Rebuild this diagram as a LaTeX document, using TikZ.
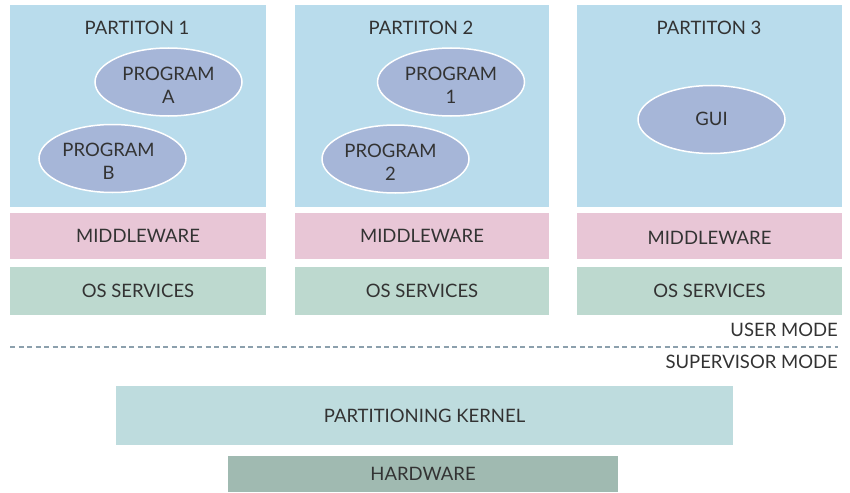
\documentclass[tikz,border=0pt]{standalone}
\usepackage{fontspec}
\setmainfont{Lato}
\usetikzlibrary{shapes.geometric}

\definecolor{partfill}{HTML}{B9DCEC}
\definecolor{progfill}{HTML}{A6B6D8}
\definecolor{mwfill}{HTML}{E8C6D6}
\definecolor{osfill}{HTML}{BDD9CF}
\definecolor{kernfill}{HTML}{BEDCDE}
\definecolor{hwfill}{HTML}{A0BAB1}
\definecolor{modeline}{HTML}{8CA0AD}
\definecolor{txt}{HTML}{333333}

\tikzset{
  every node/.style={text=txt, font=\fontsize{18.5}{23}\selectfont},
  prog/.style={ellipse, fill=progfill, draw=white, line width=1.5pt,
    minimum width=147, minimum height=68, inner sep=0pt},
  progtext/.style={align=center, inner sep=0pt}
}

\begin{document}
\begin{tikzpicture}[x=1pt,y=-1pt]
\useasboundingbox (0,0) rectangle (850,492);

% Partitions
\fill[partfill] (10,5) rectangle (266,207);
\fill[partfill] (295,5) rectangle (549,207);
\fill[partfill] (577,5) rectangle (842,207);
\node (p1) at (137,28) {PARTITON 1};
\node (p2) at (421,28) {PARTITON 2};
\node (p3) at (709,28) {PARTITON 3};

% Programs
\node[prog] (pa) at (168.5,82) {};
\node[prog] (pb) at (112.5,158.5) {};
\node[prog] (p1a) at (451,82) {};
\node[prog] (p2a) at (395.5,159) {};
\node[prog] (gui) at (711.5,119.5) {};
\node[progtext] (pat) at ([yshift=-3.5pt]pa.center) {PROGRAM\\A};
\node[progtext] (pbt) at ([xshift=-4pt,yshift=-3pt]pb.center) {PROGRAM\\B};
\node[progtext] (p1t) at ([yshift=-3.5pt]p1a.center) {PROGRAM\\1};
\node[progtext] (p2t) at ([xshift=-5pt,yshift=-3pt]p2a.center) {PROGRAM\\2};
\node[progtext] (guit) at ([yshift=1pt]gui.center) {GUI};

% Middleware layer
\fill[mwfill] (10,213) rectangle (266,259) node[pos=.5] (mw1) {MIDDLEWARE};
\fill[mwfill] (295,213) rectangle (549,259) node[pos=.5] (mw2) {MIDDLEWARE};
\fill[mwfill] (577,213) rectangle (842,259) node[pos=.5, yshift=-2pt] (mw3) {MIDDLEWARE};

% OS services layer
\fill[osfill] (10,267) rectangle (266,315) node[pos=.5] (os1) {OS SERVICES};
\fill[osfill] (295,267) rectangle (549,315) node[pos=.5] (os2) {OS SERVICES};
\fill[osfill] (577,267) rectangle (842,315) node[pos=.5] (os3) {OS SERVICES};

% Mode boundary
\draw[modeline, line width=2pt, dash pattern=on 5pt off 3.5pt] (10,347) -- (838,347);
\node[anchor=east, inner sep=0pt] (user) at (838,330) {USER MODE};
\node[anchor=east, inner sep=0pt] (super) at (838,362) {SUPERVISOR MODE};

% Kernel and hardware
\fill[kernfill] (116,386) rectangle (733,445) node[pos=.5] (kern) {PARTITIONING KERNEL};
\fill[hwfill] (228,456) rectangle (618,492) node[pos=.5] (hw) {HARDWARE};

\end{tikzpicture}
\end{document}
